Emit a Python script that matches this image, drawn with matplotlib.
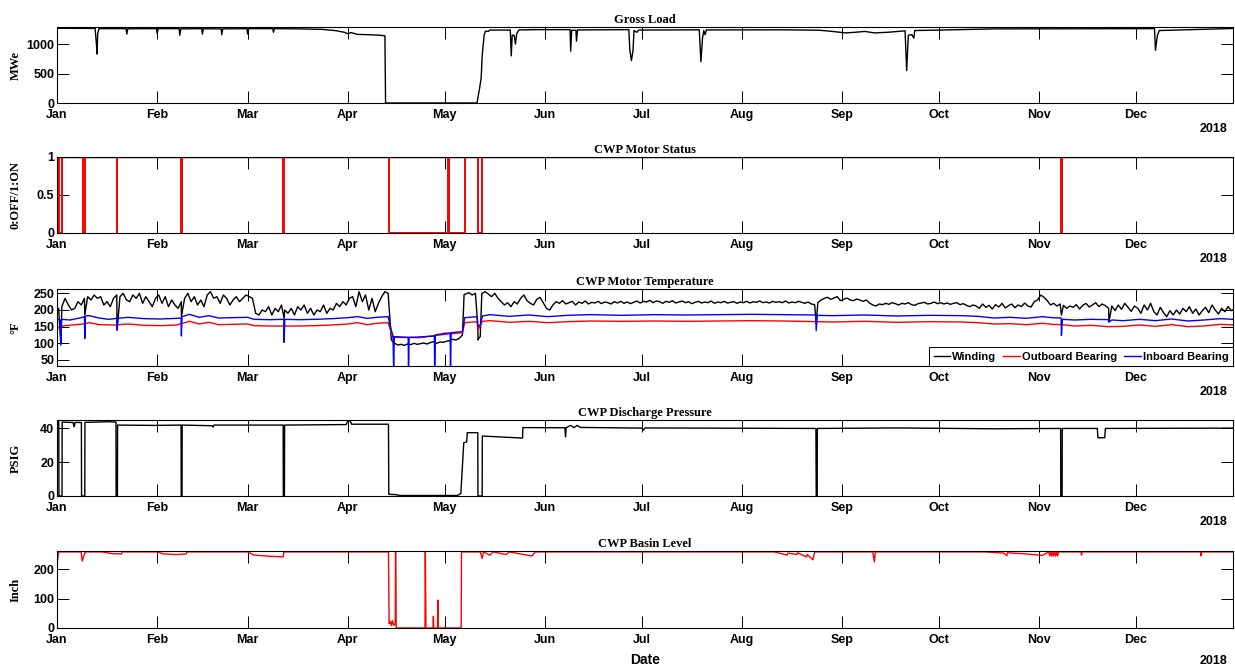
import numpy as np
import matplotlib
matplotlib.use("Agg")
import matplotlib.pyplot as plt
import matplotlib.dates as mdates

plt.rcParams['font.family'] = ['Liberation Sans', 'DejaVu Sans']
plt.rcParams['font.weight'] = 'bold'

# ---------------- data (day of year 2018, value) ----------------
gross_load = [(0, 1268), (11.8, 1266), (12.2, 1000), (12.4, 830), (12.6, 1180), (13, 1262),
              (21.4, 1262), (21.6, 1170), (21.9, 1260), (30.8, 1262), (31, 1180), (31.3, 1262),
              (37.8, 1262), (38, 1150), (38.3, 1258), (44.8, 1262), (45, 1170), (45.3, 1260),
              (50.8, 1258), (51, 1160), (51.3, 1258), (58.8, 1262), (59, 1170), (59.3, 1262),
              (66.8, 1262), (67, 1200), (67.3, 1262), (75, 1258), (82, 1250), (86, 1230),
              (89, 1200), (90, 1175), (91, 1195), (93, 1165), (96, 1160), (100, 1150),
              (101.5, 1140), (101.7, 0), (130, 0), (130.8, 250), (131.3, 430), (131.6, 800),
              (132.2, 1150), (132.6, 1220), (133.5, 1215), (134, 1238), (140.3, 1238),
              (140.6, 800), (140.9, 1150), (141.5, 1150), (141.9, 1000), (142.3, 1180),
              (143, 1240), (148, 1245), (158.8, 1245), (159, 880), (159.3, 1235), (160.6, 1235),
              (160.8, 1050), (161.1, 1240), (177, 1245), (177.3, 900), (177.8, 720), (178.3, 900),
              (178.6, 1230), (179.5, 1200), (180, 1238), (198.8, 1242), (199.3, 700),
              (199.8, 1100), (200.2, 1230), (200.6, 1160), (201, 1240), (225, 1242),
              (236, 1235), (240, 1215), (244, 1190), (247, 1200), (250, 1215), (253, 1190),
              (257, 1200), (262.5, 1225), (263, 550), (263.5, 1150), (264.6, 1160), (265.2, 1100),
              (265.5, 1230), (275, 1240), (290, 1258), (339.7, 1262), (340, 895), (340.6, 1150),
              (341.2, 1230), (364, 1265)]

status_off_start = [0.6, 8.2, 18.5, 38.4, 70.0, 102.7, 121.3, 130.2, 310.7]
status_off_end = [1.6, 8.6, 18.7, 38.7, 70.4, 121.0, 126.2, 131.7, 311.1]

winding_daily = [
    205, 210, 235, 215, 200, 205, 225, 215, 235, 240, 230, 245, 235, 240, 215, 225,
    210, 235, 245, 240, 250, 230, 225, 245, 235, 250, 220, 240, 225, 210, 235,
    245, 220, 240, 210, 230, 215, 205, 225, 235, 250, 225, 240, 215, 230, 210, 245,
    255, 235, 240, 220, 245, 235, 215, 230, 240, 225, 235, 245,
    240, 235, 190, 185, 200, 195, 210, 185, 205, 195, 215, 200, 190, 205, 185, 210,
    200, 215, 190, 205, 185, 200, 195, 215, 190, 205, 200, 220, 210, 225, 215,
    235, 240, 210, 255, 225, 245, 200, 235, 195, 220, 240, 255, 250, 110, 100, 95,
    97, 94, 98, 96, 100, 97, 99, 101, 98, 102, 105, 100, 104, 103,
    106, 108, 112, 110, 115, 125, 248, 252, 245, 250, 115, 250, 255, 248, 240, 250,
    235, 225, 215, 222, 210, 225, 218, 235, 245, 228, 220, 215, 232, 238, 222,
    205, 200, 215, 225, 220, 228, 218, 222, 226, 215, 224, 220, 227, 218, 223,
    221, 226, 219, 224, 222, 218, 225, 221, 226, 220, 224, 219, 223, 227, 221,
    226, 224, 229, 222, 227, 225, 220, 226, 223, 228, 221, 224, 227, 222, 225,
    219, 223, 226, 221, 224, 222, 227, 220, 224, 222, 226, 221, 223, 225, 220, 224,
    222, 226, 221, 225, 223, 227, 222, 224, 221, 226, 223, 225, 222, 227, 221,
    224, 222, 226, 223, 220, 224, 218, 216, 222, 230, 235, 238, 232, 236, 240, 228,
    232, 236, 230, 228, 233, 230, 226, 230, 221, 215, 212, 218, 216, 220, 217,
    222, 219, 215, 220, 218, 222, 216, 214, 219, 221, 223, 218, 220, 224, 219,
    222, 218, 221, 217, 220, 222, 216, 219, 214, 210, 215, 212, 205, 218, 208,
    214, 203, 216, 209, 220, 206, 213, 218, 207, 215, 210, 221, 212, 209, 225, 230,
    245, 238, 228, 215, 220, 212, 218, 214, 205, 212, 208, 216, 203, 214, 220,
    209, 215, 222, 210, 218, 213, 205, 212, 198, 215, 202, 220, 208, 196, 212,
    205, 190, 215, 200, 220, 195, 185, 208, 192, 180, 198, 185, 200, 188, 205,
    195, 210, 190, 203, 185, 198, 208, 192, 215, 200, 188, 205, 195, 210, 198, 203]
winding_spikes = [(1.2, 95), (8.6, 185), (18.6, 140), (38.5, 180), (70.3, 175),
                  (126.0, 246), (130.2, 160), (130.35, 110), (131.0, 120), (131.6, 250),
                  (235.0, 160), (310.9, 185), (325.6, 164)]

inboard = [(0, 172), (1.0, 170), (1.2, 100), (1.4, 172), (4, 170), (8, 178), (8.5, 180),
           (8.6, 115), (8.8, 182), (10, 183), (13, 176), (16, 172), (18.5, 175), (18.6, 140),
           (18.8, 175), (22, 178), (27, 174), (32, 173), (37, 175), (38.4, 176), (38.5, 122),
           (38.7, 180), (41, 187), (44, 178), (47, 183), (50, 176), (54, 177), (59, 178),
           (61, 172), (66, 171), (70.2, 172), (70.3, 103), (70.5, 172), (75, 171), (80, 172),
           (85, 174), (90, 177), (93, 180), (96, 175), (99, 178), (102.5, 180), (103.2, 150),
           (104, 122), (104.2, 20), (104.4, 120), (108.7, 118), (108.8, 20), (109.0, 118),
           (112, 119), (116.8, 122), (116.9, 20), (117.1, 125), (120, 130), (121.7, 131),
           (121.8, 20), (122.0, 132), (125.5, 135), (126.2, 177), (130, 180), (130.3, 150),
           (131.0, 155), (131.7, 182), (134, 186), (140, 181), (146, 185), (152, 180),
           (158, 184), (165, 186), (175, 184), (185, 186), (195, 185), (205, 186), (215, 187),
           (225, 186), (234.8, 185), (235, 138), (235.3, 184), (240, 183), (250, 185),
           (260, 182), (270, 184), (280, 183), (285, 181), (290, 176), (295, 178), (300, 175),
           (305, 180), (308, 177), (310.8, 176), (310.9, 124), (311.2, 172), (315, 170),
           (320, 172), (325.4, 171), (325.6, 164), (326.5, 170), (330, 168), (335, 172),
           (340, 168), (345, 173), (350, 167), (355, 170), (360, 174), (364, 172)]

outboard = [(0, 152), (1.2, 140), (1.5, 152), (8, 158), (10, 162), (13, 156), (18, 155),
            (22, 158), (27, 154), (32, 153), (37, 155), (41, 166), (44, 158), (47, 163),
            (50, 156), (54, 157), (59, 158), (61, 153), (66, 152), (75, 152), (80, 153),
            (85, 155), (90, 158), (93, 162), (96, 156), (99, 160), (102.5, 162), (103.2, 140),
            (104, 118), (112, 117), (120, 127), (125.5, 132), (126.2, 162), (130, 165),
            (130.3, 140), (131.7, 166), (134, 168), (140, 163), (146, 166), (152, 162),
            (158, 165), (165, 167), (175, 166), (185, 167), (195, 166), (205, 167), (215, 168),
            (225, 167), (235, 165), (240, 164), (250, 166), (260, 163), (270, 165), (280, 164),
            (285, 162), (290, 158), (295, 159), (300, 156), (305, 160), (308, 157), (311, 156),
            (315, 152), (320, 154), (325.6, 150), (330, 151), (335, 155), (340, 151),
            (345, 156), (350, 150), (355, 152), (360, 157), (364, 155)]

pressure = [(0, 44), (0.55, 44), (0.6, 0), (1.55, 0), (1.6, 43.8), (5, 43.5), (5.3, 41),
            (5.6, 43.6), (7.55, 43.5), (7.6, 0), (8.6, 0), (8.65, 43.6), (16, 44), (18.25, 43.8),
            (18.3, 0), (18.7, 0), (18.75, 42), (30, 41.8), (38.4, 42), (38.45, 0), (38.7, 0),
            (38.75, 42), (48, 41.6), (48.3, 40.8), (48.6, 42), (70.0, 42), (70.05, 0),
            (70.4, 0), (70.45, 42), (89.5, 42.3), (90, 44.5), (90.8, 44.3), (91.2, 42.5),
            (102.6, 42.5), (102.7, 1.0), (105, 0.8), (106, 0.3), (124, 0.3), (125, 1.5),
            (125.9, 31.5), (126.8, 32), (127.0, 37.5), (130.25, 37.5), (130.3, 0),
            (131.6, 0), (131.65, 35.5), (144.1, 34.3), (144.2, 40.5), (157.2, 40.4),
            (157.4, 35), (157.6, 40.5), (159, 41.8), (160, 40.5), (161, 41.8), (162, 40.6),
            (181, 40.2), (181.5, 39), (182, 40.3), (234.9, 40), (235.0, 0), (235.3, 0),
            (235.35, 40), (260, 40.3), (290, 39.8), (310.65, 40), (310.7, 0), (311.1, 0),
            (311.15, 40), (322, 40), (322.2, 34.5), (324.3, 34.5), (324.5, 40), (364, 40.2)]

basin = [(0, 215), (0.5, 259), (7.5, 259), (7.8, 228), (8.6, 255), (9, 259), (14, 259),
         (17, 253), (20, 252), (20.2, 259), (31, 259), (33, 252), (37, 250), (40, 252),
         (40.2, 259), (59, 259), (61, 248), (66, 244), (70, 242), (70.2, 259), (102.6, 259),
         (102.8, 15), (103.2, 22), (103.5, 8), (103.8, 25), (104.2, 10), (104.7, 12),
         (104.8, 259), (105.0, 0), (113.9, 0), (114.0, 259), (114.2, 0), (116.4, 0),
         (116.5, 40), (116.6, 0), (117.8, 0), (117.9, 95), (118.0, 0), (125.1, 0),
         (125.2, 259), (131, 259), (131.6, 237), (132, 259), (134, 248), (135, 259),
         (139, 250), (140, 259), (147, 245), (148, 259), (222, 259), (226, 248), (226.2, 255),
         (229, 250), (229.2, 256), (232, 242), (232.2, 250), (234, 232), (234.5, 259),
         (252.5, 259), (253, 225), (253.3, 259), (287, 259), (293, 255), (294, 246),
         (294.2, 256), (300, 252), (305, 247), (307, 259), (307.3, 245), (307.6, 259),
         (307.9, 245), (308.2, 259), (308.5, 245), (308.8, 259), (309.1, 245), (309.4, 259),
         (309.7, 245), (310, 259), (317, 259), (317.1, 248), (317.3, 259), (354, 259),
         (354.1, 245), (354.3, 259), (364, 259)]

legend_labels = ['Winding', 'Outboard Bearing', 'Inboard Bearing']
titles = ['Gross Load', 'CWP Motor Status', 'CWP Motor Temperature',
          'CWP Discharge Pressure', 'CWP Basin Level']
ylabels = ['MWe', '0:OFF/1:ON', '°F', 'PSIG', 'Inch']


# ---------------- helpers ----------------
def to_dates(days):
    days = np.asarray(days, dtype=float)
    return np.datetime64('2018-01-01T00:00') + np.round(days * 1440).astype('timedelta64[m]')


def split(pairs):
    a = np.array(pairs, dtype=float)
    return to_dates(a[:, 0]), a[:, 1]


SERIF = ['Liberation Serif', 'DejaVu Serif']
W, H = 1235, 665
fig = plt.figure(figsize=(W / 100, H / 100), dpi=100)

left_px, right_px = 57, 1233
tops = [27, 157, 289, 420, 551]
bots = [103, 233, 366, 496, 628]
axes = []
for t, b in zip(tops, bots):
    ax = fig.add_axes([left_px / W, 1 - b / H, (right_px - left_px) / W, (b - t) / H])
    axes.append(ax)

ylims = [(0, 1290), (0, 1), (32, 263), (0, 45), (0, 262)]
yticks = [[0, 500, 1000], [0, 0.5, 1], [50, 100, 150, 200, 250], [0, 20, 40], [0, 100, 200]]
yticklabels = [['0', '500', '1000'], ['0', '0.5', '1'], ['50', '100', '150', '200', '250'],
               ['0', '20', '40'], ['0', '100', '200']]

# Panel 1: gross load
x, y = split(gross_load)
axes[0].plot(x, y, color='black', lw=1.0)

# Panel 2: motor status
sd = [0.0]
sv = [1.0]
for s, e in zip(status_off_start, status_off_end):
    sd += [s, s, e, e]
    sv += [1, 0, 0, 1]
sd.append(364.0)
sv.append(1.0)
axes[1].plot(to_dates([0, 364]), [1, 1], color='black', lw=1.0)
axes[1].plot(to_dates(sd), sv, color='#ff0000', lw=1.4)

# Panel 3: temperatures
wd = list(np.arange(len(winding_daily)) + 0.5)
wv = list(winding_daily)
for d, v in winding_spikes:
    wd.append(d)
    wv.append(v)
order = np.argsort(wd)
wd = np.array(wd)[order]
wv = np.array(wv)[order]
l1, = axes[2].plot(to_dates(wd), wv, color='black', lw=1.0)
x, y = split(outboard)
l2, = axes[2].plot(x, y, color='#ff0000', lw=1.0)
x, y = split(inboard)
l3, = axes[2].plot(x, y, color='#0000ff', lw=1.0)
leg = axes[2].legend([l1, l2, l3], legend_labels, loc='lower right', ncol=3,
                     borderaxespad=0.0, handlelength=1.5, handletextpad=0.2,
                     columnspacing=0.6, borderpad=0.4, fancybox=False, framealpha=1,
                     prop={'weight': 'bold', 'size': 8})
leg.get_frame().set_edgecolor('black')
leg.get_frame().set_linewidth(0.7)

# Panel 4: pressure
x, y = split(pressure)
axes[3].plot(x, y, color='black', lw=1.0)

# Panel 5: basin level
x, y = split(basin)
axes[4].plot(x, y, color='#ff0000', lw=1.0)

xmin, xmax = to_dates([0, 364])
for i, ax in enumerate(axes):
    ax.set_xlim(xmin, xmax)
    ax.set_ylim(*ylims[i])
    ax.set_yticks(yticks[i])
    ax.set_yticklabels(yticklabels[i])
    ax.xaxis.set_major_locator(mdates.MonthLocator())
    ax.xaxis.set_major_formatter(mdates.DateFormatter('%b'))
    ax.tick_params(direction='in', length=8.5, width=0.7, top=True, right=True,
                   labelsize=9)
    ax.tick_params(axis='x', pad=4)
    ax.tick_params(axis='y', pad=2)
    for lab in ax.get_xticklabels() + ax.get_yticklabels():
        lab.set_fontweight('bold')
    for sp in ax.spines.values():
        sp.set_linewidth(0.8)
    ax.set_title(titles[i], fontfamily=SERIF, fontweight='bold', fontsize=9, pad=3)
    ax.set_ylabel(ylabels[i], fontfamily=SERIF, fontweight='bold', fontsize=9)
    ax.yaxis.set_label_coords(-0.030, 0.5)
    yoff = -24 if i == len(axes) - 1 else -19
    ax.annotate('2018', xy=(0.995, 0), xycoords='axes fraction', xytext=(0, yoff),
                textcoords='offset points', ha='right', va='center', fontsize=9,
                fontweight='bold')

axes[4].set_xlabel('Date', fontsize=10, fontweight='bold', labelpad=5)

fig.savefig('out.png', dpi=100)
